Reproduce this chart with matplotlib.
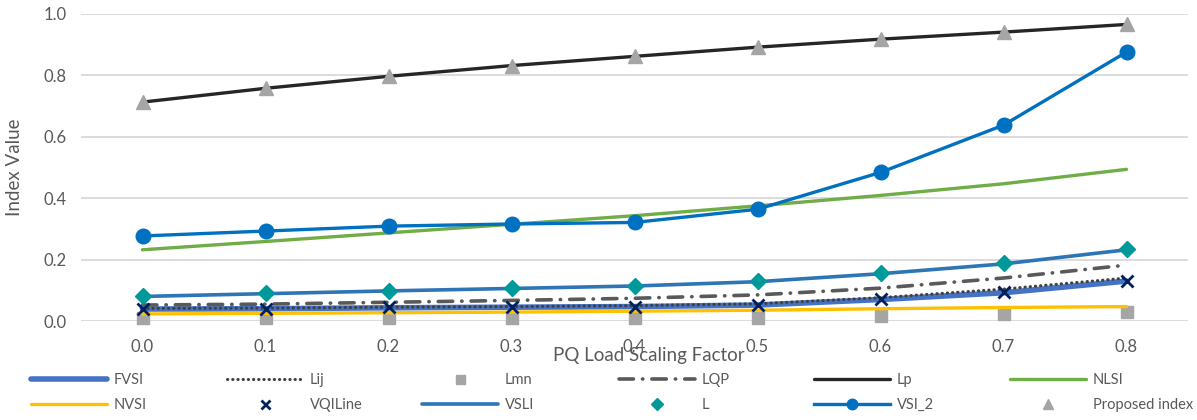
import numpy as np
import matplotlib.pyplot as plt

plt.rcParams['font.family'] = ['Lato', 'DejaVu Sans']

# load scaling factor categories
factors = ['0.0', '0.1', '0.2', '0.3', '0.4', '0.5', '0.6', '0.7', '0.8']

# index values per method
fvsi = [0.039, 0.040, 0.043, 0.045, 0.047, 0.052, 0.070, 0.092, 0.130]
lij = [0.041, 0.042, 0.045, 0.047, 0.050, 0.056, 0.076, 0.104, 0.140]
lmn = [0.009, 0.009, 0.009, 0.009, 0.009, 0.010, 0.016, 0.022, 0.028]
lqp = [0.052, 0.055, 0.061, 0.067, 0.074, 0.085, 0.107, 0.140, 0.182]
lp = [0.713, 0.758, 0.797, 0.832, 0.862, 0.892, 0.918, 0.941, 0.966]
nlsi = [0.232, 0.259, 0.287, 0.315, 0.343, 0.375, 0.409, 0.447, 0.494]
nvsi = [0.023, 0.025, 0.027, 0.029, 0.032, 0.035, 0.040, 0.044, 0.047]
vqiline = [0.039, 0.040, 0.044, 0.045, 0.047, 0.052, 0.072, 0.095, 0.131]
vsli = [0.080, 0.089, 0.098, 0.106, 0.114, 0.128, 0.154, 0.186, 0.232]
l_index = [0.081, 0.090, 0.099, 0.107, 0.115, 0.130, 0.157, 0.188, 0.234]
vsi_2 = [0.277, 0.293, 0.309, 0.316, 0.321, 0.364, 0.484, 0.638, 0.876]
proposed = [0.713, 0.758, 0.797, 0.832, 0.862, 0.892, 0.918, 0.941, 0.966]

x = np.arange(len(factors))

fig = plt.figure(figsize=(11.97, 4.2), dpi=100)
ax = fig.add_axes([81 / 1197, 1 - 321 / 420, 1107 / 1197, 307 / 420])

series = [
    ('FVSI', fvsi, dict(color='#4472C4', lw=4.0, solid_capstyle='round')),
    ('Lij', lij, dict(color='#404040', lw=2.2, linestyle=(0, (0.1, 1.6)), dash_capstyle='round')),
    ('Lmn', lmn, dict(color='#A5A5A5', lw=0, marker='s', ms=9)),
    ('LQP', lqp, dict(color='#595959', lw=2.6, linestyle=(0, (4, 2.5, 0.1, 2.5)), dash_capstyle='round')),
    ('Lp', lp, dict(color='#262626', lw=2.4, solid_capstyle='round')),
    ('NLSI', nlsi, dict(color='#70AD47', lw=2.4, solid_capstyle='round')),
    ('NVSI', nvsi, dict(color='#FFC000', lw=2.4, solid_capstyle='round')),
    ('VQILine', vqiline, dict(color='#002060', lw=0, marker='x', ms=9, mew=2)),
    ('VSLI', vsli, dict(color='#2E75B6', lw=2.6, solid_capstyle='round')),
    ('L', l_index, dict(color='#009999', lw=0, marker='D', ms=8.5)),
    ('VSI_2', vsi_2, dict(color='#0070C0', lw=2.4, marker='o', ms=10.5)),
    ('Proposed index', proposed, dict(color='#A5A5A5', lw=0, marker='^', ms=10.5)),
]

handles = {}
for name, vals, style in series:
    h, = ax.plot(x, vals, clip_on=False, label=name, **style)
    handles[name] = h

ax.set_xlim(-0.5, len(factors) - 0.5)
ax.set_ylim(0, 1.0)
ax.set_yticks(np.arange(0, 1.01, 0.2))
ax.yaxis.set_major_formatter(plt.FormatStrFormatter('%.1f'))
ax.set_xticks(x)
ax.set_xticklabels(factors)
ax.grid(axis='y', color='#D9D9D9', lw=1.3)
ax.set_axisbelow(True)
for s in ax.spines.values():
    s.set_visible(False)
ax.tick_params(length=0, labelsize=12, labelcolor='#595959')
ax.tick_params(axis='x', pad=13)
ax.tick_params(axis='y', pad=10)

ax.set_ylabel('Index Value', fontsize=13.5, color='#595959')
ax.yaxis.set_label_coords(-0.052, 0.5)
ax.set_xlabel('PQ Load Scaling Factor', fontsize=13.5, color='#595959')
ax.xaxis.set_label_coords(0.513, -0.085)

# legend: six columns, two rows
order = [('FVSI', 'NVSI'), ('Lij', 'VQILine'), ('Lmn', 'VSLI'),
         ('LQP', 'L'), ('Lp', 'VSI_2'), ('NLSI', 'Proposed index')]
col_x = [24, 220, 415, 612, 807, 1003]
for cx, pair in zip(col_x, order):
    fig.legend([handles[n] for n in pair], list(pair),
               loc='upper left', bbox_to_anchor=(cx / 1197, 1 - 366 / 420),
               frameon=False, fontsize=10.5, handlelength=5.2,
               handletextpad=0.45, labelspacing=0.75, numpoints=1,
               markerscale=0.72, borderpad=0, labelcolor='#595959')

fig.savefig('out.png', dpi=100)
